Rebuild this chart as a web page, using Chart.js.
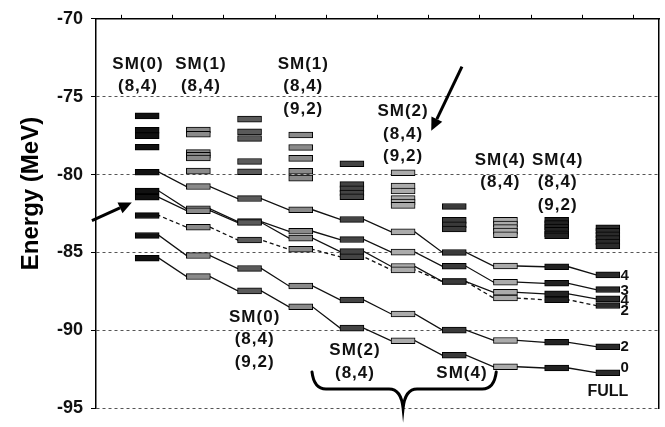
<!DOCTYPE html>
<html>
<head>
<meta charset="utf-8">
<script src="https://cdn.jsdelivr.net/npm/chart.js@4/dist/chart.umd.min.js"></script>
<style>
  html, body { margin: 0; padding: 0; background: #fff; }
  #c { display: block; }
</style>
</head>
<body>
<canvas id="c" width="665" height="427"></canvas>
<script>
// ---- data: energy levels (MeV) per calculation column ----
const columns = [1, 2, 3, 4, 5, 6, 7, 8, 9, 10];
const yTicks = [-95, -90, -85, -80, -75, -70];

// levels that are not part of a connected band
const levelsCol1 = [-76.23, -77.15, -77.50, -78.25];
const levelsCol2 = [-77.14, -77.41, -78.59, -78.76, -78.94, -79.78];
const levelsCol3 = [-76.44, -77.26, -77.68, -79.16, -79.82];
const levelsCol4 = [-77.46, -78.26, -78.96, -79.79, -80.23];
const levelsCol5 = [-79.31, -80.64, -80.92, -81.18, -81.43];
const levelsCol6 = [-79.88, -80.74, -81.06, -81.54, -81.76, -81.98];
const levelsCol7 = [-82.05, -82.94, -83.22, -83.50];
const levelsCol8 = [-82.94, -83.17, -83.40, -83.63, -83.86];
const levelsCol9 = [-82.94, -83.15, -83.37, -83.58, -83.80, -83.93];
const levelsCol10 = [-83.41, -83.64, -83.87, -84.10, -84.33, -84.58];

// connected bands, one value per column (1..10)
const band4a = [-79.85, -80.77, -81.54, -82.26, -82.88, -83.68, -85.00, -85.87, -85.92, -86.44];
const band3  = [-81.06, -82.20, -83.02, -83.64, -84.17, -84.98, -85.89, -86.91, -86.98, -87.38];
const band4b = [-81.46, -82.32, -83.08, -84.08, -84.94, -85.90, -86.87, -87.56, -87.66, -87.98];
const band2a = [-82.63, -83.38, -84.20, -84.80, -85.28, -86.12, -86.87, -87.93, -88.04, -88.41];
const band2b = [-83.91, -85.20, -86.03, -87.15, -88.05, -88.95, -89.99, -90.65, -90.77, -91.05];
const band0  = [-85.37, -86.55, -87.47, -88.49, -89.86, -90.67, -91.60, -92.34, -92.42, -92.72];
const bandSpins = ['4', '3', '4', '2', '2', '0'];

// ---- styling ----
const FONT = '"Liberation Sans", Arial, sans-serif';
const columnFills = ['#111111', '#8a8a8a', '#5a5a5a', '#8a8a8a', '#444444',
                     '#ababab', '#3a3a3a', '#ababab', '#222222', '#2a2a2a'];
const HALF_H = 0.19;   // half thickness of a level bar, MeV
const HALF_W = 0.23;   // half width of a level bar, column units

const extraLevels = [levelsCol1, levelsCol2, levelsCol3, levelsCol4, levelsCol5,
                     levelsCol6, levelsCol7, levelsCol8, levelsCol9, levelsCol10];
const bands = [band4a, band3, band4b, band2a, band2b, band0];
const dashedBand = [false, false, false, true, false, false];

const datasets = [];
columns.forEach((col, i) => {
  const all = extraLevels[i].concat(bands.map(b => b[i]));
  datasets.push({
    type: 'bar',
    data: all.map(e => ({ x: col, y: [e - HALF_H, e + HALF_H] })),
    backgroundColor: columnFills[i],
    borderColor: '#000',
    borderWidth: 1,
    borderSkipped: false,
    barThickness: 24,
    grouped: false,
    order: 0
  });
});
bands.forEach((b, k) => {
  const pts = [];
  b.forEach((e, i) => {
    pts.push({ x: columns[i] - HALF_W, y: e });
    pts.push({ x: columns[i] + HALF_W, y: e });
  });
  datasets.push({
    type: 'line',
    data: pts,
    borderColor: '#111',
    borderWidth: 1.3,
    borderDash: dashedBand[k] ? [4, 3] : [],
    pointRadius: 0,
    fill: false,
    tension: 0,
    order: 1
  });
});

// ---- annotations (data coordinates) ----
const groupLabels = [
  { x: 0.82, y: -72.89, lines: ['SM(0)', '(8,4)'] },
  { x: 2.05, y: -72.89, lines: ['SM(1)', '(8,4)'] },
  { x: 4.05, y: -72.92, lines: ['SM(1)', '(8,4)', '(9,2)'] },
  { x: 6.00, y: -75.96, lines: ['SM(2)', '(8,4)', '(9,2)'] },
  { x: 7.90, y: -79.06, lines: ['SM(4)', '(8,4)'] },
  { x: 9.02, y: -79.06, lines: ['SM(4)', '(8,4)', '(9,2)'] },
  { x: 3.10, y: -89.16, lines: ['SM(0)', '(8,4)', '(9,2)'] },
  { x: 5.06, y: -91.31, lines: ['SM(2)', '(8,4)'] },
  { x: 7.15, y: -92.73, lines: ['SM(4)'] }
];
const spinNudge = [0.5, 1, 2, 5.5, 0, -5];

const decorations = {
  id: 'decorations',
  afterDraw(chart) {
    const { ctx, chartArea } = chart;
    const xs = chart.scales.x, ys = chart.scales.y;
    const px = v => xs.getPixelForValue(v);
    const py = v => ys.getPixelForValue(v);
    ctx.save();

    // axis title
    ctx.save();
    ctx.translate(31, (chartArea.top + chartArea.bottom) / 2 - 20);
    ctx.rotate(-Math.PI / 2);
    ctx.font = 'bold 24px ' + FONT;
    ctx.fillStyle = '#000';
    ctx.textAlign = 'center';
    ctx.textBaseline = 'middle';
    ctx.fillText('Energy (MeV)', 0, 0);
    ctx.restore();

    // group labels
    ctx.fillStyle = '#111';
    ctx.textAlign = 'center';
    ctx.textBaseline = 'middle';
    ctx.font = 'bold 17px ' + FONT;
    if ('letterSpacing' in ctx) ctx.letterSpacing = '1px';
    groupLabels.forEach(g => {
      g.lines.forEach((t, j) => ctx.fillText(t, px(g.x), py(g.y) + j * 22.5));
    });
    if ('letterSpacing' in ctx) ctx.letterSpacing = '0px';

    ctx.font = 'bold 16px ' + FONT;
    ctx.fillText('FULL', px(10.0), py(-93.96));

    // spin labels at the end of each band
    ctx.font = 'bold 15px ' + FONT;
    ctx.textAlign = 'left';
    bands.forEach((b, k) => {
      ctx.fillText(bandSpins[k], px(columns[columns.length - 1] + HALF_W) + 1, py(b[b.length - 1]) + spinNudge[k]);
    });

    // arrows
    const arrow = (x0, y0, x1, y1) => {
      const ax = px(x0), ay = py(y0), bx = px(x1), by = py(y1);
      const ang = Math.atan2(by - ay, bx - ax);
      const L = 13, W = 6;
      const hx = bx - L * Math.cos(ang), hy = by - L * Math.sin(ang);
      ctx.strokeStyle = '#000';
      ctx.lineWidth = 3;
      ctx.beginPath(); ctx.moveTo(ax, ay); ctx.lineTo(hx, hy); ctx.stroke();
      ctx.fillStyle = '#000';
      ctx.beginPath();
      ctx.moveTo(bx, by);
      ctx.lineTo(hx + W * Math.sin(ang), hy - W * Math.cos(ang));
      ctx.lineTo(hx - W * Math.sin(ang), hy + W * Math.cos(ang));
      ctx.closePath(); ctx.fill();
    };
    arrow(-0.08, -82.96, 0.70, -81.79);
    arrow(7.15, -73.07, 6.55, -77.19);

    // brace under the SM(2)/SM(4) columns
    const L = px(4.22), R = px(7.82), C = px(6.0);
    const top = py(-92.67), flat = py(-93.77), tip = py(-95.0);
    const r = 14;
    ctx.strokeStyle = '#000';
    ctx.lineWidth = 3;
    ctx.lineCap = 'round';
    ctx.beginPath();
    ctx.moveTo(L, top);
    ctx.quadraticCurveTo(L + 2, flat, L + r, flat);
    ctx.lineTo(C - r, flat);
    ctx.quadraticCurveTo(C - 2, flat, C, tip);
    ctx.quadraticCurveTo(C + 2, flat, C + r, flat);
    ctx.lineTo(R - r, flat);
    ctx.quadraticCurveTo(R - 2, flat, R, top);
    ctx.stroke();

    ctx.restore();
  }
};

new Chart(document.getElementById('c'), {
  type: 'bar',
  data: { datasets },
  options: {
    responsive: false,
    devicePixelRatio: 1,
    animation: false,
    layout: { padding: { top: 10, right: 6, bottom: 6, left: 0 } },
    plugins: { legend: { display: false }, tooltip: { enabled: false } },
    scales: {
      x: {
        type: 'linear',
        position: 'top',
        min: 0, max: 11,
        offset: false,
        ticks: { stepSize: 1, display: false },
        grid: { drawOnChartArea: false, drawTicks: true, tickLength: 4, color: '#000' },
        border: { color: '#000', width: 1.5 },
        afterFit: s => { s.height = 4; }
      },
      y: {
        type: 'linear',
        min: -95, max: -70,
        afterBuildTicks: s => { s.ticks = yTicks.map(v => ({ value: v })); },
        ticks: {
          color: '#111',
          padding: 8,
          font: { family: FONT, size: 18, weight: 'bold' }
        },
        grid: { color: '#555', lineWidth: 1, tickLength: 5, tickColor: '#000', tickBorderDash: [] },
        border: { color: '#000', width: 1.5, dash: [3, 3] },
        afterFit: s => { s.width = 96; }
      },
      yR: {
        type: 'linear',
        position: 'right',
        min: -95, max: -70,
        ticks: { display: false },
        grid: { display: false, drawTicks: false },
        border: { display: true, color: '#000', width: 1.5 },
        afterFit: s => { s.width = 0; }
      }
    }
  },
  plugins: [decorations]
});
</script>
</body>
</html>
